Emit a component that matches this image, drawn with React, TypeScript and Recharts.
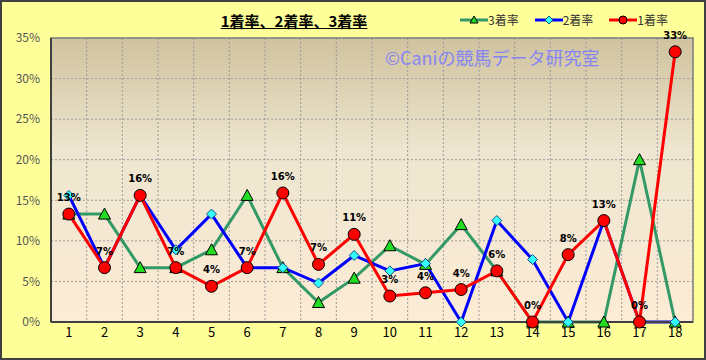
import React from 'react';
import {
  LineChart,
  Line,
  XAxis,
  YAxis,
  CartesianGrid,
  LabelList,
  ReferenceArea,
} from 'recharts';

const races = [1, 2, 3, 4, 5, 6, 7, 8, 9, 10, 11, 12, 13, 14, 15, 16, 17, 18];
const winRate = [13.3, 6.7, 15.6, 6.7, 4.4, 6.7, 15.9, 7.1, 10.8, 3.2, 3.6, 4.0, 6.3, 0, 8.3, 12.5, 0, 33.3];
const placeRate2 = [15.6, 6.7, 15.6, 8.9, 13.3, 6.7, 6.7, 4.8, 8.2, 6.3, 7.2, 0, 12.5, 7.7, 0, 12.5, 0, 0];
const placeRate3 = [13.3, 13.3, 6.7, 6.7, 8.9, 15.6, 6.7, 2.4, 5.4, 9.4, 7.1, 12.0, 6.3, 0, 0, 0, 20.0, 0];
const yTicks = [0, 5, 10, 15, 20, 25, 30, 35];
const gridTicks = [1.5, 2.5, 3.5, 4.5, 5.5, 6.5, 7.5, 8.5, 9.5, 10.5, 11.5, 12.5, 13.5, 14.5, 15.5, 16.5, 17.5];

const data = races.map((n, i) => ({
  n,
  third: placeRate3[i],
  second: placeRate2[i],
  win: winRate[i],
}));

const legendItems = [
  { key: 'third', label: '3着率', color: '#339966' },
  { key: 'second', label: '2着率', color: '#0000ff' },
  { key: 'win', label: '1着率', color: '#ff0000' },
];

const FONT = '"Noto Sans CJK JP", "Liberation Sans", sans-serif';

const Triangle = (props: any) => {
  const { cx, cy, index } = props;
  if (cx == null || cy == null) return null;
  return (
    <path
      key={`tri-${index}`}
      d={`M${cx},${cy - 6} L${cx + 6},${cy + 5} L${cx - 6},${cy + 5} Z`}
      fill="#22dd22"
      stroke="#000"
      strokeWidth={1}
    />
  );
};

const Diamond = (props: any) => {
  const { cx, cy, index } = props;
  if (cx == null || cy == null) return null;
  return (
    <path
      key={`dia-${index}`}
      d={`M${cx},${cy - 5} L${cx + 5},${cy} L${cx},${cy + 5} L${cx - 5},${cy} Z`}
      fill="#33ffff"
      stroke="#1a4d80"
      strokeWidth={1}
    />
  );
};

const Circle = (props: any) => {
  const { cx, cy, index } = props;
  if (cx == null || cy == null) return null;
  return <circle key={`cir-${index}`} cx={cx} cy={cy} r={6} fill="#ff0000" stroke="#000" strokeWidth={1} />;
};

const markerFor = (key: string, x: number, y: number) => {
  if (key === 'third') return <path d={`M${x},${y - 4} L${x + 4},${y + 3} L${x - 4},${y + 3} Z`} fill="#22dd22" stroke="#000" />;
  if (key === 'second') return <path d={`M${x},${y - 4} L${x + 4},${y} L${x},${y + 4} L${x - 4},${y} Z`} fill="#33ffff" stroke="#1a4d80" />;
  return <circle cx={x} cy={y} r={4} fill="#ff0000" stroke="#000" />;
};

export default function App() {
  return (
    <div
      style={{
        position: 'fixed',
        left: 0,
        top: 0,
        width: 706,
        height: 360,
        background: '#ffff99',
        boxSizing: 'border-box',
        border: '2px solid #404040',
      }}
    >
      <div
        style={{
          position: 'absolute',
          left: 0,
          width: 584,
          top: 8,
          textAlign: 'center',
          fontFamily: FONT,
          fontWeight: 'bold',
          fontSize: 15,
          textDecoration: 'underline',
          color: '#000',
        }}
      >
        1着率、2着率、3着率
      </div>
      <div
        style={{
          position: 'absolute',
          left: 458,
          top: 9,
          display: 'flex',
          fontFamily: FONT,
          fontSize: 12,
          color: '#333',
        }}
      >
        {legendItems.map((item) => (
          <div key={item.key} style={{ display: 'flex', alignItems: 'center', marginRight: 16 }}>
            <svg width={28} height={14}>
              <line x1={0} y1={7} x2={28} y2={7} stroke={item.color} strokeWidth={3} />
              {markerFor(item.key, 14, 7)}
            </svg>
            <span>{item.label}</span>
          </div>
        ))}
      </div>
      <div
        style={{
          position: 'absolute',
          left: 383,
          top: 42,
          fontFamily: FONT,
          fontSize: 18,
          color: '#8585f2',
          zIndex: 2,
        }}
      >
        ©Caniの競馬データ研究室
      </div>
      <div style={{ position: 'absolute', left: -2, top: -2 }}>
        <LineChart width={706} height={360} data={data} margin={{ top: 38, right: 13, bottom: 13, left: 6 }}>
          <defs>
            <linearGradient id="plotBg" x1="0" y1="0" x2="0" y2="1">
              <stop offset="0%" stopColor="#d0c29e" />
              <stop offset="40%" stopColor="#eee6d0" />
              <stop offset="100%" stopColor="#fdebd5" />
            </linearGradient>
          </defs>
          <XAxis xAxisId="grid" type="number" dataKey="n" domain={[0.5, 18.5]} ticks={gridTicks} hide />
          <XAxis
            type="number"
            dataKey="n"
            domain={[0.5, 18.5]}
            ticks={races}
            interval={0}
            height={25}
            tickSize={0}
            tickMargin={6}
            axisLine={{ stroke: '#404040', strokeWidth: 2 }}
            tick={{ fill: '#000', fontSize: 13, fontFamily: FONT }}
          />
          <YAxis
            domain={[0, 35]}
            ticks={yTicks}
            interval={0}
            width={45}
            tickSize={0}
            tickMargin={11}
            tickFormatter={(v: number) => `${v}%`}
            axisLine={{ stroke: '#404040', strokeWidth: 2 }}
            tick={{ fill: '#555', fontSize: 12, fontFamily: FONT }}
          />
          <CartesianGrid
            xAxisId="grid"
            fill="url(#plotBg)"
            fillOpacity={1}
            stroke="#9a9a9a"
            strokeDasharray="2 2"
          />
          <ReferenceArea x1={0.5} x2={18.5} y1={0} y2={35} fill="none" stroke="#808080" strokeWidth={1.5} ifOverflow="visible" />
          <Line
            name="3着率"
            dataKey="third"
            stroke="#339966"
            strokeWidth={3}
            dot={<Triangle />}
            isAnimationActive={false}
          />
          <Line
            name="2着率"
            dataKey="second"
            stroke="#0000ff"
            strokeWidth={3}
            dot={<Diamond />}
            isAnimationActive={false}
          />
          <Line
            name="1着率"
            dataKey="win"
            stroke="#ff0000"
            strokeWidth={3}
            dot={<Circle />}
            isAnimationActive={false}
          >
            <LabelList
              dataKey="win"
              position="top"
              offset={13}
              formatter={(v: any) => `${Math.round(Number(v))}%`}
              fill="#000"
              style={{ fontSize: 10, fontWeight: 'bold', fontFamily: '"DejaVu Sans", sans-serif' }}
            />
          </Line>
        </LineChart>
      </div>
    </div>
  );
}
